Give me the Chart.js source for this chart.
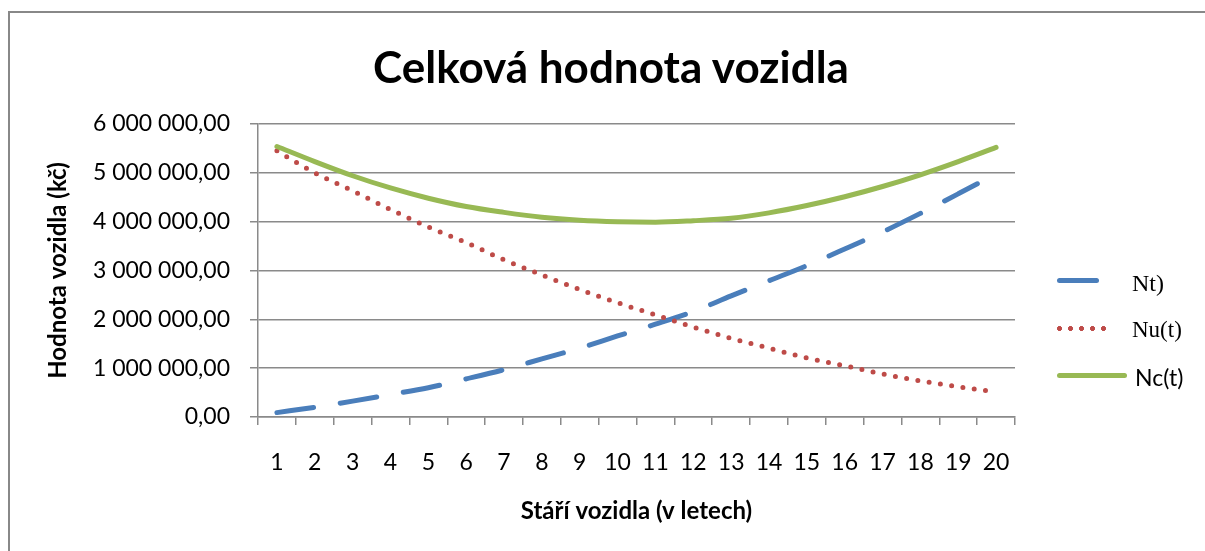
<!DOCTYPE html>
<html>
<head>
<meta charset="utf-8">
<script src="https://cdn.jsdelivr.net/npm/chart.js@4/dist/chart.umd.min.js"></script>
<style>
    body { margin: 0; background: #fff; }
    #wrap { position: relative; width: 1205px; height: 551px; overflow: hidden; }
    #chart { position: absolute; left: 0; top: 0; }
    #frame { position: absolute; left: 8px; top: 11px; right: -10px; bottom: -10px;
             border-top: 2px solid #888; border-left: 2px solid #888; pointer-events: none; }
    #title { position: absolute; left: 0; width: 1222px; top: 44px; text-align: center;
             font: bold 44px Lato; line-height: 1; color: #000; }
    .legend-line { position: absolute; height: 5px; }
    .legend-text { position: absolute; color: #000; line-height: 1; transform: translateY(-50%); }
</style>
</head>
<body>
<div id="wrap">
    <canvas id="chart" width="1205" height="551"></canvas>
    <div id="frame"></div>
    <div id="title"></div>
    <div id="legend"></div>
</div>

<script>
// Data (kč)
let chartTitle = "Celková hodnota vozidla";
let years = ["1","2","3","4","5","6","7","8","9","10","11","12","13","14","15","16","17","18","19","20"];
let ntValues = [90000, 200000, 325000, 460000, 600000, 780000, 970000, 1190000, 1410000, 1660000,
                1900000, 2160000, 2480000, 2790000, 3100000, 3440000, 3790000, 4170000, 4570000, 4980000];
let nuValues = [5450000, 5000000, 4630000, 4250000, 3890000, 3570000, 3220000, 2910000, 2610000, 2340000,
                2090000, 1840000, 1610000, 1410000, 1210000, 1050000, 880000, 740000, 620000, 510000];
let ncValues = [5540000, 5230000, 4940000, 4690000, 4480000, 4310000, 4190000, 4090000, 4030000, 4000000,
                3990000, 4020000, 4070000, 4180000, 4330000, 4510000, 4720000, 4960000, 5230000, 5520000];
let seriesNames = ["Nt)", "Nu(t)", "Nc(t)"];
let yTicks = [0, 1000000, 2000000, 3000000, 4000000, 5000000, 6000000];

let gridColor = "#8a8a8a";

// 6000000 -> "6 000 000,00"
function formatKc(v) {
    let parts = Number(v).toFixed(2).split(".");
    let whole = parts[0].replace(/\B(?=(\d{3})+(?!\d))/g, " ");
    return whole + "," + parts[1];
}

Chart.defaults.font.family = "Lato";
Chart.defaults.color = "#000";

document.getElementById("title").textContent = chartTitle;

let chart = new Chart(document.getElementById("chart"), {
    type: "line",
    data: {
        labels: years,
        datasets: [
            {
                label: seriesNames[0],
                data: ntValues,
                borderColor: "#4a7ebb",
                borderWidth: 5,
                borderDash: [37, 27],
                borderCapStyle: "round",
                order: 3
            },
            {
                label: seriesNames[1],
                data: nuValues,
                borderColor: "#be4b48",
                borderWidth: 5,
                borderDash: [0, 11.4],
                borderCapStyle: "round",
                order: 2
            },
            {
                label: seriesNames[2],
                data: ncValues,
                borderColor: "#98b954",
                borderWidth: 5,
                borderCapStyle: "round",
                order: 1
            }
        ]
    },
    options: {
        responsive: false,
        animation: false,
        devicePixelRatio: 1,
        elements: {
            point: { radius: 0 },
            line: { cubicInterpolationMode: "monotone", fill: false }
        },
        layout: { padding: { left: 0, right: 190, top: 124, bottom: 0 } },
        plugins: {
            legend: { display: false },
            tooltip: { enabled: false }
        },
        scales: {
            x: {
                offset: true,
                grid: { offset: true, drawOnChartArea: false, drawTicks: true, tickLength: 8,
                        color: gridColor, lineWidth: 1.5 },
                border: { display: true, color: gridColor, width: 1.5 },
                ticks: { padding: 24, maxRotation: 0, font: { size: 23 } },
                title: {
                    display: true,
                    text: "Stáří vozidla (v letech)",
                    font: { size: 24, weight: "bold" },
                    padding: { top: 0, bottom: 25 }
                },
                afterFit: (scale) => { scale.height = 134; }
            },
            y: {
                min: 0,
                max: 6000000,
                afterBuildTicks: (scale) => { scale.ticks = yTicks.map(v => ({ value: v })); },
                grid: { color: gridColor, lineWidth: 1.5, tickLength: 8 },
                border: { display: true, color: gridColor, width: 1.5 },
                ticks: { padding: 20, font: { size: 23 }, callback: (v) => formatKc(v) },
                title: {
                    display: true,
                    text: "Hodnota vozidla (kč)",
                    font: { size: 24, weight: "bold" },
                    padding: { top: 43.5, bottom: 0 }
                },
                afterFit: (scale) => { scale.width = 258; }
            }
        }
    }
});

// Legend on the right, built from the datasets
let legendStyle = [
    { top: 277.5, width: 42, text: 283, left: 1132, font: "24px 'Liberation Serif'" },
    { top: 325.5, width: 56, text: 330, left: 1132, font: "23px 'Liberation Serif'" },
    { top: 373, width: 70, text: 377, left: 1135, font: "23px Lato" }
];

function renderLegend() {
    let legend = document.getElementById("legend");
    legend.innerHTML = "";
    chart.data.datasets.forEach((ds, i) => {
        let st = legendStyle[i];
        let line = document.createElement("div");
        line.className = "legend-line";
        line.style.left = "1057px";
        line.style.top = st.top + "px";
        line.style.width = st.width + "px";
        if (ds.borderDash && ds.borderDash[0] === 0) {
            line.style.backgroundImage = "radial-gradient(circle, " + ds.borderColor + " 2.2px, transparent 2.8px)";
            line.style.backgroundSize = "11px 5px";
            line.style.left = "1053.5px";
        } else {
            line.style.background = ds.borderColor;
            line.style.borderRadius = "3px";
        }
        legend.appendChild(line);

        let label = document.createElement("div");
        label.className = "legend-text";
        label.style.left = st.left + "px";
        label.style.top = st.text + "px";
        label.style.font = st.font;
        label.textContent = ds.label;
        legend.appendChild(label);
    });
}

renderLegend();
</script>
</body>
</html>
